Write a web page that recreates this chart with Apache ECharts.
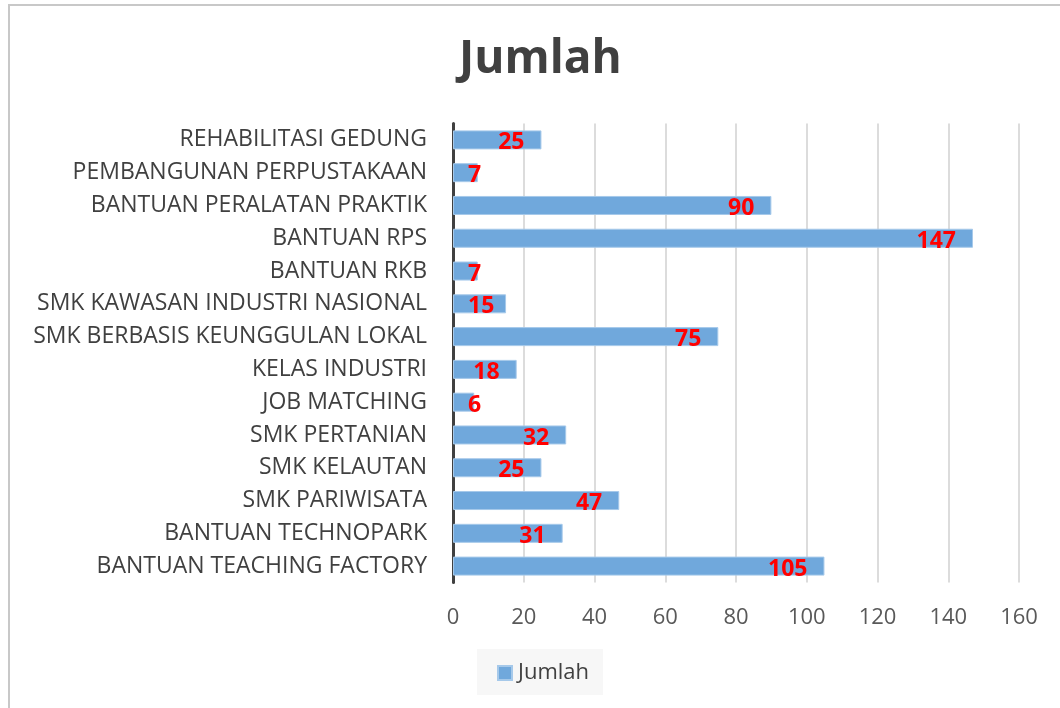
<!DOCTYPE html>
<html>
<head>
<meta charset="utf-8">
<script src="https://cdn.jsdelivr.net/npm/echarts@6/dist/echarts.min.js"></script>
<style>
  html, body { margin: 0; padding: 0; background: #fff; }
  #chart { width: 1060px; height: 708px; }
</style>
</head>
<body>
<div id="chart"></div>
<script>
// Program categories, listed top to bottom
const categories = [
  'REHABILITASI GEDUNG',
  'PEMBANGUNAN PERPUSTAKAAN',
  'BANTUAN PERALATAN PRAKTIK',
  'BANTUAN RPS',
  'BANTUAN RKB',
  'SMK KAWASAN INDUSTRI NASIONAL',
  'SMK BERBASIS KEUNGGULAN LOKAL',
  'KELAS INDUSTRI',
  'JOB MATCHING',
  'SMK PERTANIAN',
  'SMK KELAUTAN',
  'SMK PARIWISATA',
  'BANTUAN TECHNOPARK',
  'BANTUAN TEACHING FACTORY'
];
const jumlah = [25, 7, 90, 147, 7, 15, 75, 18, 6, 32, 25, 47, 31, 105];
const xTicks = [0, 20, 40, 60, 80, 100, 120, 140, 160];

const font = '"Open Sans", "Noto Sans", sans-serif';

// Short bars get their label pinned near the axis instead of at the bar end
const barData = jumlah.map(v => v < 16
  ? { value: v, label: { position: 'insideLeft', distance: 15 } }
  : v);

const chart = echarts.init(document.getElementById('chart'), null, { renderer: 'canvas' });
chart.setOption({
  animation: false,
  backgroundColor: '#ffffff',
  graphic: [{
    type: 'rect',
    shape: { x: 9, y: 5, width: 1200, height: 900 },
    style: { fill: 'none', stroke: '#c8c8c8', lineWidth: 2 },
    silent: true
  }],
  title: {
    text: 'Jumlah',
    left: 459,
    top: 37,
    padding: 0,
    textStyle: { fontFamily: font, fontWeight: 'bold', fontSize: 46, color: '#404040' }
  },
  grid: { left: 453, right: 41, top: 123.5, bottom: 125.5, containLabel: false },
  xAxis: {
    type: 'value',
    min: xTicks[0],
    max: xTicks[xTicks.length - 1],
    interval: xTicks[1] - xTicks[0],
    axisLine: { show: false },
    axisTick: { show: false },
    splitLine: { show: true, lineStyle: { color: '#d0d0d0', width: 1.5 } },
    axisLabel: { margin: 24, fontFamily: font, fontSize: 22, color: '#595959' }
  },
  yAxis: {
    type: 'category',
    data: categories,
    inverse: true,
    axisLine: { show: true, lineStyle: { color: '#404040', width: 3 } },
    axisTick: { show: false },
    axisLabel: { margin: 26, padding: [4, 0, 0, 0], fontFamily: font, fontSize: 23, color: '#404040' }
  },
  legend: {
    left: 477,
    top: 649,
    data: ['Jumlah'],
    icon: 'rect',
    itemWidth: 14,
    itemHeight: 14,
    itemGap: 6,
    backgroundColor: '#f7f7f7',
    padding: [13, 14, 11, 20],
    textStyle: { fontFamily: font, fontSize: 22, color: '#404040', padding: [0, 0, 0, 1] }
  },
  series: [{
    name: 'Jumlah',
    type: 'bar',
    data: barData,
    barCategoryGap: '42%',
    itemStyle: { color: '#70a8dc', borderColor: '#a6c9ea', borderWidth: 1 },
    label: {
      show: true,
      position: 'insideRight',
      distance: 17,
      offset: [0, 3],
      fontFamily: font,
      fontWeight: 'bold',
      fontSize: 23,
      color: '#ff0000'
    }
  }]
});
</script>
</body>
</html>
